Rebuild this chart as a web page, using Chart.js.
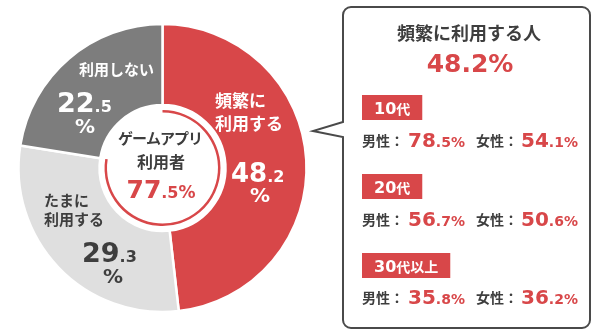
<!DOCTYPE html>
<html><head><meta charset="utf-8">
<script src="https://cdn.jsdelivr.net/npm/chart.js@4"></script>
<style>html,body{margin:0;padding:0;background:#fff;}#wrap{width:600px;height:336px;position:relative;}</style>
</head><body><div id="wrap"><canvas id="c" width="600" height="336"></canvas></div>
<script>
const categories = ['頻繁に利用する', 'たまに利用する', '利用しない'];
const shares = [48.2, 29.3, 22.5];
const appUserLabels = ['ゲームアプリ利用者', '非利用'];
const appUsers = [77.5, 22.5];
const ageGroups = ['10代', '20代', '30代以上'];
const maleFrequent = [78.5, 56.7, 35.8];
const femaleFrequent = [54.1, 50.6, 36.2];
const frequentTotal = 48.2;

const FONT = '"Noto Sans CJK JP", "Noto Sans", sans-serif';
const NUMFONT = '"DejaVu Sans", "Noto Sans", sans-serif';
const RED = '#D84749';
const DARK = '#7D7D7D';
const LIGHT = '#DFDFDF';
const TXT = '#3E3E3E';

function fontFor(s, size) {
  return 'bold ' + size + 'px ' + (/^[\d.%]+$/.test(s) ? NUMFONT : FONT);
}
function splitNum(v) {
  const s = v.toFixed(1);
  const i = s.indexOf('.');
  return [s.slice(0, i), s.slice(i)];
}
function measure(ctx, parts) {
  let w = 0;
  parts.forEach(p => { ctx.font = fontFor(p[0], p[1]); w += ctx.measureText(p[0]).width; });
  return w;
}
function mixed(ctx, x, y, parts, align) {
  const w = measure(ctx, parts);
  let cx = align === 'center' ? x - w / 2 : (align === 'right' ? x - w : x);
  ctx.textAlign = 'left'; ctx.textBaseline = 'alphabetic';
  parts.forEach(p => {
    ctx.font = fontFor(p[0], p[1]);
    ctx.fillStyle = p[2];
    ctx.fillText(p[0], cx, y);
    cx += ctx.measureText(p[0]).width;
  });
}
function txt(ctx, s, x, y, size, color, align) {
  ctx.font = fontFor(s, size);
  ctx.fillStyle = color; ctx.textAlign = align || 'left'; ctx.textBaseline = 'alphabetic';
  ctx.fillText(s, x, y);
}

const overlay = {
  id: 'overlay',
  afterDraw(chart) {
    const ctx = chart.ctx;
    ctx.save();
    const [a0, b0] = splitNum(shares[0]);
    const [a1, b1] = splitNum(shares[1]);
    const [a2, b2] = splitNum(shares[2]);
    // 頻繁に利用する
    txt(ctx, '頻繁に', 215, 107, 17, '#fff');
    txt(ctx, '利用する', 215, 130, 17, '#fff');
    mixed(ctx, 231, 182, [[a0, 26, '#fff'], [b0, 16, '#fff']], 'left');
    txt(ctx, '%', 260, 202, 20, '#fff', 'center');
    // 利用しない
    txt(ctx, '利用しない', 79, 75, 15, '#fff');
    mixed(ctx, 57, 112, [[a2, 27, '#fff'], [b2, 16, '#fff']], 'left');
    txt(ctx, '%', 85, 133, 20, '#fff', 'center');
    // たまに利用する
    txt(ctx, 'たまに', 44, 206, 15, TXT);
    txt(ctx, '利用する', 44, 225, 15, TXT);
    mixed(ctx, 82, 262, [[a1, 27, TXT], [b1, 16, TXT]], 'left');
    txt(ctx, '%', 113, 283, 20, TXT, 'center');

    // center
    const [ua, ub] = splitNum(appUsers[0]);
    ctx.letterSpacing = '-1px';
    txt(ctx, 'ゲームアプリ', 160, 144, 15, TXT, 'center');
    ctx.letterSpacing = '0px';
    txt(ctx, '利用者', 161, 168, 16, TXT, 'center');
    mixed(ctx, 161, 198, [[ua, 25, RED], [ub, 16, RED], ['%', 17, RED]], 'center');

    // callout box
    const L = 343, T = 7, R = 590, B = 328, r = 8;
    ctx.beginPath();
    ctx.moveTo(L + r, T);
    ctx.lineTo(R - r, T); ctx.arcTo(R, T, R, T + r, r);
    ctx.lineTo(R, B - r); ctx.arcTo(R, B, R - r, B, r);
    ctx.lineTo(L + r, B); ctx.arcTo(L, B, L, B - r, r);
    ctx.lineTo(L, 137); ctx.lineTo(313, 131); ctx.lineTo(L, 122);
    ctx.lineTo(L, T + r); ctx.arcTo(L, T, L + r, T, r);
    ctx.closePath();
    ctx.fillStyle = '#fff'; ctx.fill();
    ctx.lineWidth = 2; ctx.strokeStyle = '#4A4A4A'; ctx.stroke();

    txt(ctx, categories[0] + '人', 469, 40, 18, TXT, 'center');
    txt(ctx, frequentTotal.toFixed(1) + '%', 470, 72, 25, RED, 'center');

    const boxTops = [95, 174, 253];
    const rowBase = [147, 226, 304];
    ageGroups.forEach((g, i) => {
      const m = g.match(/^(\d+)(.*)$/);
      const parts = [[m[1], 16, '#fff'], [m[2], 14, '#fff']];
      const bw = measure(ctx, parts) + 24;
      ctx.fillStyle = RED;
      ctx.fillRect(362, boxTops[i], bw, 25);
      mixed(ctx, 362 + bw / 2, boxTops[i] + 19, parts, 'center');

      const [ma, mb] = splitNum(maleFrequent[i]);
      const [fa, fb] = splitNum(femaleFrequent[i]);
      txt(ctx, '男性：', 362, rowBase[i] - 1, 14, TXT);
      mixed(ctx, 408, rowBase[i], [[ma, 20, RED], [mb + '%', 14, RED]], 'left');
      txt(ctx, '女性：', 476, rowBase[i] - 1, 14, TXT);
      mixed(ctx, 521, rowBase[i], [[fa, 20, RED], [fb + '%', 14, RED]], 'left');
    });
    ctx.restore();
  }
};

new Chart(document.getElementById('c'), {
  type: 'doughnut',
  data: {
    labels: categories,
    datasets: [
      { data: shares, backgroundColor: [RED, LIGHT, DARK], borderColor: '#fff', borderWidth: 2.5, weight: 81 },
      { data: [1], backgroundColor: ['rgba(0,0,0,0)'], borderWidth: 0, weight: 5 },
      { data: appUsers, backgroundColor: [RED, 'rgba(0,0,0,0)'], borderWidth: 0, weight: 2.5 }
    ]
  },
  options: {
    responsive: false,
    devicePixelRatio: 1,
    animation: false,
    radius: 144,
    cutout: 55,
    layout: { padding: { left: 18, right: 293, top: 24, bottom: 24 } },
    plugins: { legend: { display: false }, tooltip: { enabled: false } }
  },
  plugins: [overlay]
});
</script></body></html>
